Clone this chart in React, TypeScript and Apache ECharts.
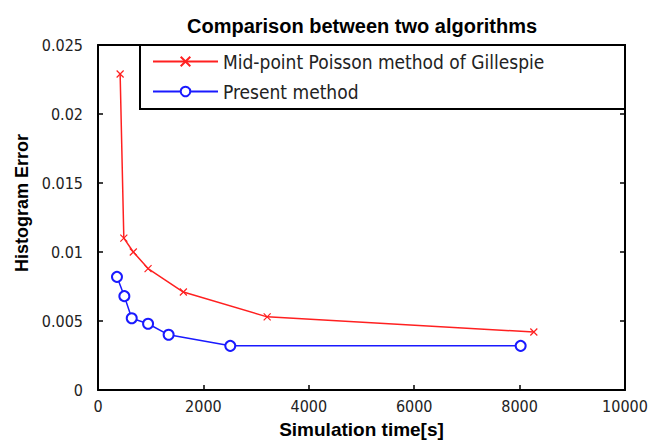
import React, { useEffect, useRef } from "react";
import * as echarts from "echarts";

const redX = [420, 490, 670, 950, 1620, 3210, 8270];
const redY = [0.0229, 0.011, 0.01, 0.0088, 0.0071, 0.0053, 0.0042];
const blueX = [360, 500, 640, 950, 1340, 2510, 8020];
const blueY = [0.0082, 0.0068, 0.0052, 0.0048, 0.004, 0.0032, 0.0032];
const seriesNames = ["Mid-point Poisson method of Gillespie", "Present method"];
const titleText = "Comparison between two algorithms";
const xName = "Simulation time[s]";
const yName = "Histogram Error";

const tickFont = "'Liberation Sans Narrow', 'DejaVu Sans Condensed', Arial, sans-serif";
const boldFont = "'Liberation Sans', Arial, sans-serif";

export default function App() {
  const ref = useRef<HTMLDivElement>(null);
  useEffect(() => {
    if (!ref.current) return;
    const chart = echarts.init(ref.current, null, { renderer: "svg" });
    const axisLine = { show: true, onZero: false, lineStyle: { color: "#000", width: 2 } };
    const axisTick = { show: true, inside: true, length: 5, lineStyle: { color: "#000", width: 1.5 } };
    const label = { color: "#222", fontFamily: tickFont, fontSize: 16 };
    chart.setOption({
      animation: false,
      backgroundColor: "#fff",
      title: {
        text: titleText,
        left: 182,
        top: 11,
        textStyle: { fontFamily: boldFont, fontWeight: "bold", fontSize: 20, color: "#000" },
      },
      grid: {
        left: 98, top: 45, width: 527, height: 345,
        containLabel: false, outerBoundsMode: "none",
      },
      xAxis: [
        {
          type: "value", min: 0, max: 10000, interval: 2000, position: "bottom",
          axisLine, axisTick, splitLine: { show: false },
          axisLabel: { ...label, margin: 8, formatter: (v: number) => String(v) },
          name: xName, nameLocation: "middle", nameGap: 30,
          nameTextStyle: { fontFamily: boldFont, fontWeight: "bold", fontSize: 19, color: "#000" },
        },
        {
          type: "value", min: 0, max: 10000, interval: 2000, position: "top",
          axisLine, axisTick, splitLine: { show: false }, axisLabel: { show: false },
        },
      ],
      yAxis: [
        {
          type: "value", min: 0, max: 0.025, interval: 0.005, position: "left",
          axisLine, axisTick, splitLine: { show: false },
          axisLabel: { ...label, margin: 15, formatter: (v: number) => String(+v.toFixed(3)) },
        },
        {
          type: "value", min: 0, max: 0.025, interval: 0.005, position: "right",
          axisLine, axisTick, splitLine: { show: false }, axisLabel: { show: false },
        },
      ],
      graphic: [
        {
          type: "rect", z: 3,
          shape: { x: 140, y: 45, width: 485, height: 64 },
          style: { fill: "#fff", stroke: "#000", lineWidth: 2 },
        },
        {
          type: "text", x: 22, y: 203, rotation: Math.PI / 2,
          style: {
            text: yName, fontFamily: boldFont, fontWeight: "bold", fontSize: 18,
            fill: "#000", align: "center", verticalAlign: "middle",
          },
        },
      ],
      legend: {
        orient: "vertical", left: 147, top: 47, itemWidth: 65, itemHeight: 12, itemGap: 11,
        z: 5,
        textStyle: { fontFamily: tickFont, fontSize: 19, color: "#222" },
        data: seriesNames,
      },
      series: [
        {
          name: seriesNames[0], type: "line",
          data: redX.map((x, i) => [x, redY[i]]),
          symbol: "path://M0,0L10,10M10,0L0,10", symbolSize: 7,
          lineStyle: { color: "#ff2020", width: 1.5 },
          itemStyle: { color: "#ff2020", borderColor: "#ff2020", borderWidth: 1.2 },
        },
        {
          name: seriesNames[1], type: "line",
          data: blueX.map((x, i) => [x, blueY[i]]),
          symbol: "emptyCircle", symbolSize: 10,
          lineStyle: { color: "#1a1aff", width: 1.5 },
          itemStyle: { color: "#1a1aff", borderColor: "#1a1aff", borderWidth: 1.5 },
        },
      ],
    });
    return () => chart.dispose();
  }, []);
  return (
    <div
      ref={ref}
      style={{ position: "absolute", left: 0, top: 0, width: 654, height: 442 }}
    />
  );
}
